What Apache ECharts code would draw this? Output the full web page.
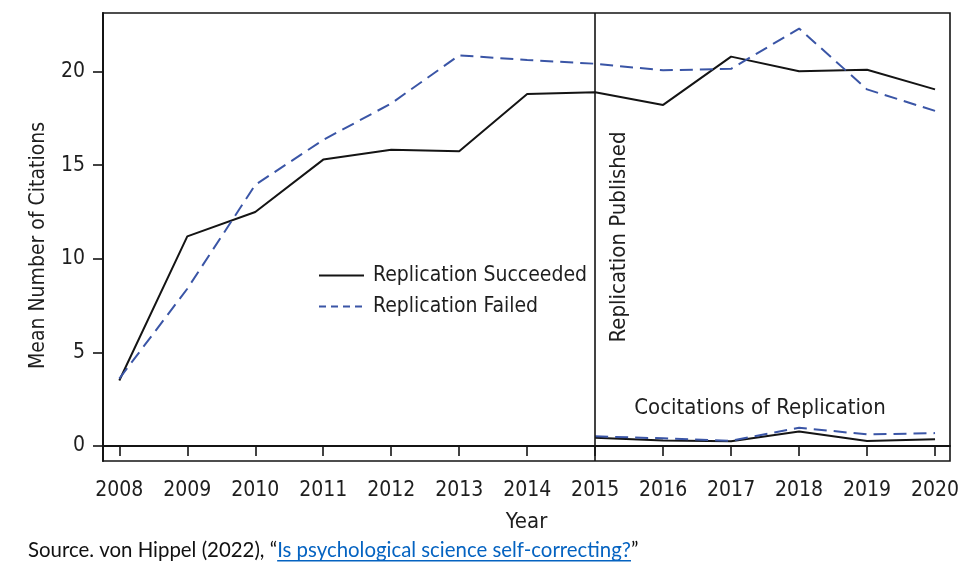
<!DOCTYPE html>
<html>
<head>
<meta charset="utf-8">
<script src="https://cdn.jsdelivr.net/npm/echarts@6/dist/echarts.min.js"></script>
<style>
html,body{margin:0;padding:0;background:#fff;}
#c{width:967px;height:576px;}
</style>
</head>
<body>
<div id="c"></div>
<script>
var years = [2008, 2009, 2010, 2011, 2012, 2013, 2014, 2015, 2016, 2017, 2018, 2019, 2020];
var succeeded = [3.5, 11.2, 12.5, 15.3, 15.82, 15.75, 18.8, 18.9, 18.22, 20.8, 20.02, 20.1, 19.05];
var failed = [3.6, 8.4, 13.95, 16.35, 18.3, 20.87, 20.62, 20.42, 20.07, 20.15, 22.3, 19.05, 17.9];
var cociteYears = [2015, 2016, 2017, 2018, 2019, 2020];
var cociteSucceeded = [0.44, 0.3, 0.25, 0.77, 0.27, 0.36];
var cociteFailed = [0.52, 0.41, 0.28, 0.98, 0.62, 0.69];
var yTicks = [0, 5, 10, 15, 20];
var publishedYear = 2015;

var FONT = '"Liberation Sans Narrow", "DejaVu Sans Condensed", sans-serif';
var BLACK = '#141414';
var BLUE = '#3a55a6';
var TXT = '#1e1e1e';

function pairs(xs, ys) { return xs.map(function (x, i) { return [x, ys[i]]; }); }

var chart = echarts.init(document.getElementById('c'), null, {renderer: 'canvas'});

var sourceFont = '20.4px Lato, "Open Sans", sans-serif';
var pre = 'Source. von Hippel (2022), \u201c';
var link = 'Is psychological science self-correcting?';
var post = '\u201d';
var ctx = document.createElement('canvas').getContext('2d');
ctx.font = sourceFont;
var preW = ctx.measureText(pre).width;
var linkW = ctx.measureText(link).width;
var srcX = 28, srcY = 550;

var lineCommon = {type: 'line', symbol: 'none', showSymbol: false, smooth: false, silent: true, animation: false};

chart.setOption({
  animation: false,
  grid: {left: 103, right: 17, top: 13, bottom: 115, show: true, borderColor: BLACK, borderWidth: 1.6, backgroundColor: 'transparent'},
  xAxis: {
    type: 'value', min: 2007.76, max: 2020.22,
    name: 'Year', nameLocation: 'middle', nameGap: 50,
    nameTextStyle: {fontFamily: FONT, fontSize: 22, color: TXT},
    axisLine: {show: true, lineStyle: {color: BLACK, width: 2}},
    axisTick: {show: true, inside: false, length: 10, lineStyle: {color: BLACK, width: 1.6}, customValues: years},
    axisLabel: {show: true, margin: 19, fontFamily: FONT, fontSize: 21, color: TXT, customValues: years, formatter: function (v) { return String(v); }},
    splitLine: {show: false}
  },
  yAxis: {
    type: 'value', min: -0.8, max: 23.13,
    name: 'Mean Number of Citations', nameLocation: 'middle', nameGap: 54, nameRotate: 90,
    nameTextStyle: {fontFamily: FONT, fontSize: 21, color: TXT, padding: [0, 17, 0, 0]},
    axisLine: {show: true, lineStyle: {color: BLACK, width: 2}},
    axisTick: {show: true, inside: false, length: 10, lineStyle: {color: BLACK, width: 1.6}, customValues: yTicks},
    axisLabel: {show: true, margin: 18, fontFamily: FONT, fontSize: 21, color: TXT, customValues: yTicks},
    splitLine: {show: false}
  },
  legend: {
    show: true, orient: 'vertical', left: 318, top: 265, padding: 0,
    itemWidth: 45, itemHeight: 14, itemGap: 10,
    itemStyle: {opacity: 0},
    data: [
      {name: 'Replication Succeeded'},
      {name: 'Replication Failed', lineStyle: {type: [7, 5]}}
    ],
    textStyle: {fontFamily: FONT, fontSize: 21, color: TXT, padding: [0, 0, 0, 4]},
    selectedMode: false
  },
  series: [
    Object.assign({}, lineCommon, {
      name: 'Replication Succeeded', data: pairs(years, succeeded),
      lineStyle: {color: BLACK, width: 2}, itemStyle: {color: BLACK},
      markLine: {
        silent: true, symbol: ['none', 'none'], animation: false,
        label: {show: false},
        lineStyle: {color: BLACK, width: 1.6, type: 'solid'},
        data: [{xAxis: publishedYear}]
      }
    }),
    Object.assign({}, lineCommon, {
      name: 'Replication Failed', data: pairs(years, failed),
      lineStyle: {color: BLUE, width: 2, type: [13, 7]}, itemStyle: {color: BLUE}
    }),
    Object.assign({}, lineCommon, {
      name: 'Cocitations Succeeded', data: pairs(cociteYears, cociteSucceeded),
      lineStyle: {color: BLACK, width: 2}, itemStyle: {color: BLACK}
    }),
    Object.assign({}, lineCommon, {
      name: 'Cocitations Failed', data: pairs(cociteYears, cociteFailed),
      lineStyle: {color: BLUE, width: 2, type: [13, 7]}, itemStyle: {color: BLUE}
    })
  ],
  graphic: [
    {type: 'text', x: 619, y: 237, rotation: Math.PI / 2, silent: true,
      style: {text: 'Replication Published', font: '22px ' + FONT, fill: TXT, align: 'center', verticalAlign: 'middle'}},
    {type: 'text', x: 760, y: 408, silent: true,
      style: {text: 'Cocitations of Replication', font: '22px ' + FONT, fill: TXT, align: 'center', verticalAlign: 'middle'}},
    {type: 'text', x: srcX, y: srcY, silent: true,
      style: {text: pre, font: sourceFont, fill: '#111', align: 'left', verticalAlign: 'middle'}},
    {type: 'text', x: srcX + preW, y: srcY, silent: true,
      style: {text: link, font: sourceFont, fill: '#0563c1', align: 'left', verticalAlign: 'middle'}},
    {type: 'rect', silent: true, shape: {x: srcX + preW, y: srcY + 10, width: linkW, height: 1.4}, style: {fill: '#0563c1'}},
    {type: 'text', x: srcX + preW + linkW, y: srcY, silent: true,
      style: {text: post, font: sourceFont, fill: '#111', align: 'left', verticalAlign: 'middle'}}
  ]
});
</script>
</body>
</html>
